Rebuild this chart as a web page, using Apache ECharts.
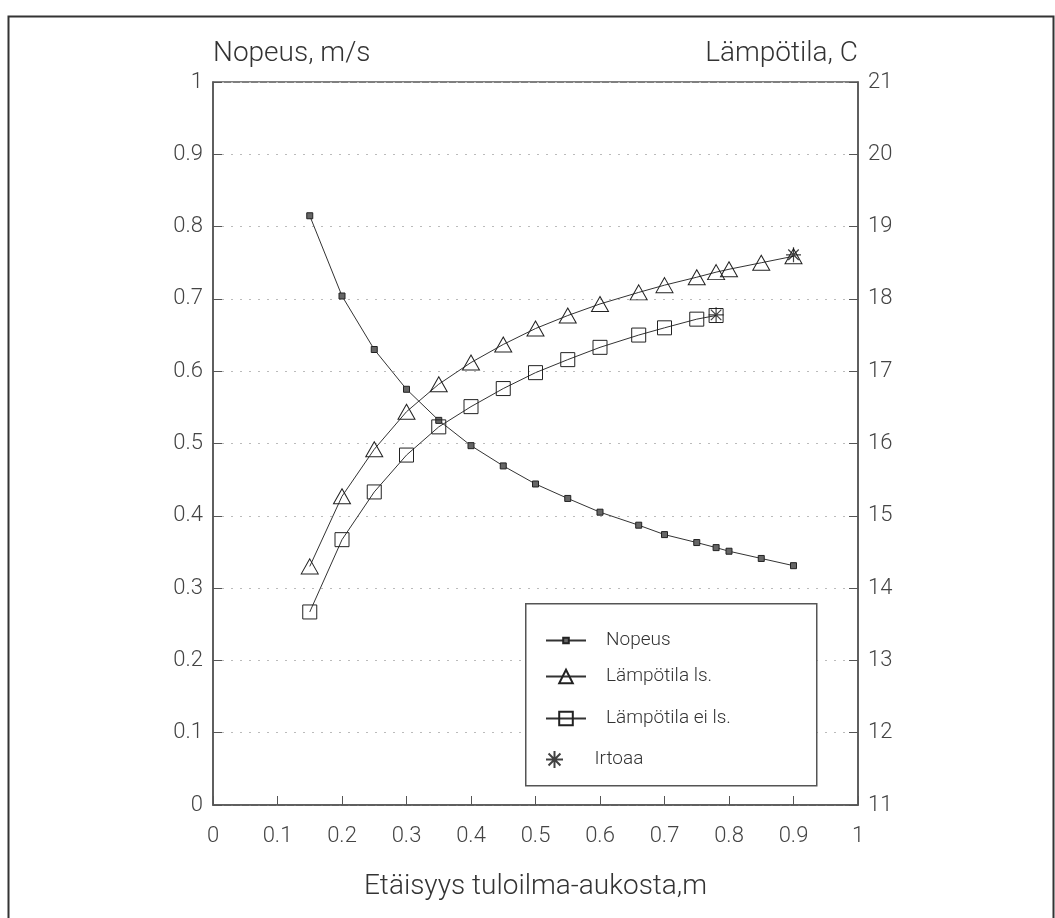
<!DOCTYPE html>
<html>
<head>
<meta charset="utf-8">
<script src="https://cdn.jsdelivr.net/npm/echarts@6/dist/echarts.min.js"></script>
<style>
    html, body { margin: 0; padding: 0; background: #fff; }
    #chart { width: 1055px; height: 918px; }
</style>
</head>
<body>
<div id="chart"></div>
<script>

// Data
// ------------------------------

// Distances (x) for velocity and the "ls." temperature curve
var distAll = [0.15, 0.2, 0.25, 0.3, 0.35, 0.4, 0.45, 0.5, 0.55, 0.6, 0.66, 0.7, 0.75, 0.78, 0.8, 0.85, 0.9];
// Velocity, m/s (left axis)
var nopeus = [0.815, 0.704, 0.630, 0.575, 0.532, 0.497, 0.469, 0.444, 0.424, 0.405, 0.387, 0.374, 0.363, 0.356, 0.351, 0.341, 0.331];
// Temperature ls., C (right axis)
var tempLs = [14.30, 15.27, 15.92, 16.44, 16.82, 17.12, 17.37, 17.59, 17.77, 17.93, 18.09, 18.19, 18.30, 18.37, 18.41, 18.50, 18.59];
// Temperature ei ls., C (right axis)
var distEiLs = [0.15, 0.2, 0.25, 0.3, 0.35, 0.4, 0.45, 0.5, 0.55, 0.6, 0.66, 0.7, 0.75, 0.78];
var tempEiLs = [13.67, 14.67, 15.33, 15.84, 16.23, 16.51, 16.76, 16.98, 17.16, 17.33, 17.50, 17.60, 17.72, 17.77];
// Detachment points
var distIrtoaa = [0.78, 0.9];
var tempIrtoaa = [17.78, 18.61];

var seriesNames = ['Nopeus', 'Lämpötila ls.', 'Lämpötila ei ls.', 'Irtoaa'];
var leftTitle = 'Nopeus, m/s';
var rightTitle = 'Lämpötila, C';
var xTitle = 'Etäisyys tuloilma-aukosta,m';


// Helpers
// ------------------------------

var pairs = function(xs, ys) {
    return xs.map(function(x, i) { return [x, ys[i]]; });
};

var FONT = 'Roboto, "DejaVu Sans", sans-serif';
var INK = '#333';
var asterisk = 'path://M10,0L10,20M0,10L20,10M3,3L17,17M3,17L17,3';

// One legend per entry so each icon can get its own size
var legendBase = function(name, top, itemHeight) {
    return {
        data: [name],
        left: 545,
        top: top,
        orient: 'vertical',
        itemWidth: 40,
        itemHeight: itemHeight,
        padding: 0,
        selectedMode: false,
        textStyle: {
            fontFamily: FONT,
            fontWeight: 300,
            fontSize: 19,
            color: INK,
            padding: [0, 0, 0, 15]
        }
    };
};


// Chart
// ------------------------------

var chartEl = document.getElementById('chart');
var chart = echarts.init(chartEl, null, { renderer: 'canvas' });

var axisLabelStyle = {
    fontFamily: FONT,
    fontWeight: 300,
    fontSize: 22,
    color: '#444'
};

chart.setOption({
    animation: false,
    backgroundColor: '#fff',

    grid: {
        left: 213,
        right: 197,
        top: 82,
        bottom: 113,
        show: true,
        borderColor: '#555',
        borderWidth: 1.5
    },

    // Outer frame and legend box
    graphic: [
        {
            type: 'rect',
            left: 6,
            top: 14,
            shape: { width: 1045, height: 1000 },
            style: { fill: 'none', stroke: '#333', lineWidth: 2 },
            silent: true
        },
        {
            type: 'rect',
            left: 525,
            top: 603,
            shape: { width: 291, height: 182 },
            style: { fill: '#fff', stroke: '#555', lineWidth: 1.5 },
            silent: true,
            z: 1
        }
    ],

    legend: [
        legendBase(seriesNames[0], 631, 7),
        legendBase(seriesNames[1], 667, 17),
        legendBase(seriesNames[2], 709, 17),
        legendBase(seriesNames[3], 750, 17)
    ],

    xAxis: {
        type: 'value',
        min: 0,
        max: 1,
        interval: 0.1,
        name: xTitle,
        nameLocation: 'middle',
        nameGap: 68,
        nameTextStyle: {
            fontFamily: FONT,
            fontWeight: 300,
            fontSize: 28,
            color: INK
        },
        axisLine: { lineStyle: { color: '#555', width: 1.5 } },
        axisTick: { inside: true, length: 9, lineStyle: { color: '#555' } },
        axisLabel: Object.assign({ margin: 20 }, axisLabelStyle),
        splitLine: { show: false }
    },

    yAxis: [
        {
            type: 'value',
            min: 0,
            max: 1,
            interval: 0.1,
            name: leftTitle,
            nameLocation: 'end',
            nameGap: 14,
            nameTextStyle: {
                fontFamily: FONT,
                fontWeight: 300,
                fontSize: 28,
                color: INK,
                align: 'left'
            },
            axisLine: { show: true, lineStyle: { color: '#555', width: 1.5 } },
            axisTick: { show: true, inside: true, length: 9, lineStyle: { color: '#555' } },
            axisLabel: Object.assign({ margin: 10 }, axisLabelStyle),
            splitLine: {
                show: true,
                lineStyle: { color: '#bbb', type: [2, 7], width: 1 }
            }
        },
        {
            type: 'value',
            min: 11,
            max: 21,
            interval: 1,
            position: 'right',
            name: rightTitle,
            nameLocation: 'end',
            nameGap: 14,
            nameTextStyle: {
                fontFamily: FONT,
                fontWeight: 300,
                fontSize: 28,
                color: INK,
                align: 'right'
            },
            axisLine: { show: true, lineStyle: { color: '#555', width: 1.5 } },
            axisTick: { show: true, inside: true, length: 9, lineStyle: { color: '#555' } },
            axisLabel: Object.assign({ margin: 10 }, axisLabelStyle),
            splitLine: { show: false }
        }
    ],

    series: [
        {
            name: seriesNames[0],
            type: 'line',
            yAxisIndex: 0,
            data: pairs(distAll, nopeus),
            symbol: 'rect',
            symbolSize: 6,
            itemStyle: { color: '#666', borderColor: '#222', borderWidth: 1 },
            lineStyle: { color: '#333', width: 1 },
            z: 3
        },
        {
            name: seriesNames[1],
            type: 'line',
            yAxisIndex: 1,
            data: pairs(distAll, tempLs),
            symbol: 'triangle',
            symbolSize: [17, 15],
            itemStyle: { color: 'rgba(0,0,0,0)', borderColor: '#222', borderWidth: 1 },
            lineStyle: { color: '#333', width: 1 },
            z: 3
        },
        {
            name: seriesNames[2],
            type: 'line',
            yAxisIndex: 1,
            data: pairs(distEiLs, tempEiLs),
            symbol: 'rect',
            symbolSize: 14,
            itemStyle: { color: 'rgba(0,0,0,0)', borderColor: '#222', borderWidth: 1 },
            lineStyle: { color: '#333', width: 1 },
            z: 3
        },
        {
            name: seriesNames[3],
            type: 'scatter',
            yAxisIndex: 1,
            data: pairs(distIrtoaa, tempIrtoaa),
            symbol: asterisk,
            symbolSize: 15,
            itemStyle: { color: 'rgba(0,0,0,0)', borderColor: '#111', borderWidth: 1.2 },
            z: 4
        }
    ]
});

window.addEventListener('resize', function() {
    chart.resize();
});
</script>
</body>
</html>
